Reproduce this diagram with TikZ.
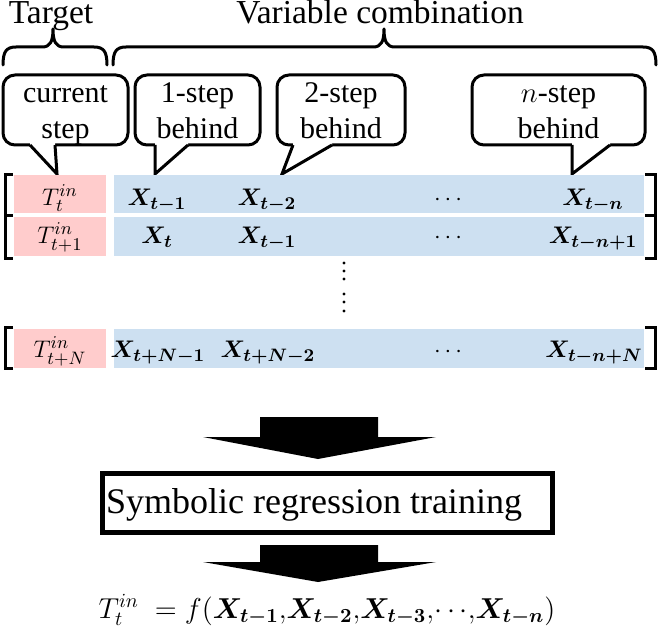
\documentclass[tikz,border=0pt]{standalone}
\usepackage{fontspec}
\setmainfont{Liberation Serif}
\usepackage{amsmath,bm}
\DeclareMathSizes{11.5}{11.5}{9}{7}
\DeclareMathSizes{13.6}{13.6}{10.2}{8}
\definecolor{pinkc}{RGB}{255,204,204}
\definecolor{bluec}{RGB}{205,224,241}
\begin{document}
\begin{tikzpicture}[x=0.5pt,y=-0.5pt,
  brace/.style={line width=1.5pt, line cap=round, line join=round},
  callbox/.style={draw, line width=1.5pt, rounded corners=6pt, fill=white, inner sep=0pt, minimum height=35pt},
  ctext/.style={anchor=base, inner sep=0pt, font=\fontsize{15}{18}\selectfont},
  ttext/.style={anchor=base, inner sep=0pt, font=\fontsize{16.75}{20}\selectfont},
  ptr/.style={line width=1.5pt, line join=miter},
  tcell/.style={fill=pinkc, inner sep=0pt, minimum width=46pt, minimum height=19.25pt},
  xcell/.style={fill=bluec, inner sep=0pt, minimum width=265pt, minimum height=19.25pt},
  mtxt/.style={anchor=base, inner sep=0pt, font=\fontsize{11.5}{14}\selectfont},
  brk/.style={line width=1.5pt},
  bigarrow/.style={fill=black},
  srbox/.style={draw, line width=2.5pt, inner sep=0pt, minimum width=225pt, minimum height=29.5pt}]
\useasboundingbox (0,0) rectangle (664,631);

% titles and braces
\node[ttext] (tgt) at (51,24) {Target};
\node[ttext] (var) at (380,24) {Variable combination};
\draw[brace] (3,65) .. controls (3,52) and (6,47) .. (16,47) -- (42,47)
  .. controls (50,47) and (53,42) .. (53,29) .. controls (53,42) and (56,47) .. (64,47)
  -- (94,47) .. controls (104,47) and (107,52) .. (107,65);
\draw[brace] (113,65) .. controls (113,52) and (116,47) .. (126,47) -- (373,47)
  .. controls (381,47) and (384,42) .. (384,29) .. controls (384,42) and (387,47) .. (395,47)
  -- (643,47) .. controls (653,47) and (656,52) .. (656,65);

% callout boxes
\node[callbox, minimum width=62.5pt] (cs) at (65.5,110) {};
\node[callbox, minimum width=62.5pt] (s1) at (197.5,110) {};
\node[callbox, minimum width=64pt] (s2) at (341,110) {};
\node[callbox, minimum width=86.5pt] (sn) at (558.5,110) {};

% pointers
\fill[white] (30,142.5) -- (55,142.5) -- (55,145) -- (57,174) -- (30,145) -- cycle;
\draw[ptr] (30,145) -- (57,174) -- (55,145);
\fill[white] (155,142.5) -- (188,142.5) -- (188,145) -- (155,174) -- (155,145) -- cycle;
\draw[ptr] (155,145) -- (155,174) -- (188,145);
\fill[white] (293,142.5) -- (332,142.5) -- (332,145) -- (282,174) -- (293,145) -- cycle;
\draw[ptr] (293,145) -- (282,174) -- (332,145);
\fill[white] (572,142.5) -- (610,142.5) -- (610,145) -- (572,174) -- (572,145) -- cycle;
\draw[ptr] (572,145) -- (572,174) -- (610,145);

\node[ctext] (cs1) at (65.5,103) {current};
\node[ctext] (cs2) at (65.5,138.5) {step};
\node[ctext] (s11) at (197.5,103) {1-step};
\node[ctext] (s12) at (197.5,138.5) {behind};
\node[ctext] (s21) at (341,103) {2-step};
\node[ctext] (s22) at (341,138.5) {behind};
\node[ctext] (sn1) at (558.5,103) {$n$-step};
\node[ctext] (sn2) at (558.5,138.5) {behind};

% rows
\node[tcell] (t1) at (60,194) {};
\node[xcell] (x1) at (379,194) {};
\node[tcell] (t2) at (60,236.5) {};
\node[xcell] (x2) at (379,236.5) {};
\node[tcell] (t3) at (60,348.5) {};
\node[xcell] (x3) at (379,348.5) {};

\node[mtxt] (a1) at (60,205.5) {$T_t^{in}$};
\node[mtxt] (b1) at (157,205.5) {$\bm{X}_{\bm{t-1}}$};
\node[mtxt] (c1) at (267,205.5) {$\bm{X}_{\bm{t-2}}$};
\node[mtxt] (d1) at (450,205.5) {$\cdots$};
\node[mtxt] (e1) at (593,205.5) {$\bm{X}_{\bm{t-n}}$};

\node[mtxt] (a2) at (60,243.5) {$T_{t+1}^{in}$};
\node[mtxt] (b2) at (157,243.5) {$\bm{X}_{\bm{t}}$};
\node[mtxt] (c2) at (267,243.5) {$\bm{X}_{\bm{t-1}}$};
\node[mtxt] (d2) at (450,243.5) {$\cdots$};
\node[mtxt] (e2) at (593,243.5) {$\bm{X}_{\bm{t-n+1}}$};

\node[mtxt] (a3) at (60,357) {$T_{t+N}^{in}$};
\node[mtxt] (b3) at (158,357) {$\bm{X}_{\bm{t+N-1}}$};
\node[mtxt] (c3) at (268,357) {$\bm{X}_{\bm{t+N-2}}$};
\node[mtxt] (d3) at (450,357) {$\cdots$};
\node[mtxt] (e3) at (594,357) {$\bm{X}_{\bm{t-n+N}}$};

% brackets
\draw[brk] (13,174) -- (5,174) -- (5,258) -- (13,258);
\draw[brk] (5,215) -- (13,215);
\draw[brk] (645,174) -- (655,174) -- (655,258) -- (645,258);
\draw[brk] (655,215) -- (645,215);
\draw[brk] (13,327) -- (5,327) -- (5,368) -- (13,368);
\draw[brk] (645,327) -- (655,327) -- (655,368) -- (645,368);

% vertical dots
\foreach \yy in {263,271,279,294,302,311} \fill (344,\yy) circle[radius=1.6];

% arrows and box
\fill[bigarrow] (260,417) -- (378,417) -- (378,437) -- (436,437) -- (318,459) -- (203,437) -- (260,437) -- cycle;
\node[srbox] (sr) at (327.5,503) {};
\node[anchor=base, inner sep=0pt, font=\fontsize{18}{21}\selectfont] (srt) at (314,513) {Symbolic regression training};
\fill[bigarrow] (260,545) -- (378,545) -- (378,562) -- (436,562) -- (318,582) -- (203,562) -- (260,562) -- cycle;

\node[anchor=base, inner sep=0pt, font=\fontsize{13.6}{16}\selectfont] (fml) at (327,618)
  {$T_t^{in}\;= f(\bm{X}_{\bm{t-1}}{,}\bm{X}_{\bm{t-2}}{,}\bm{X}_{\bm{t-3}}{,}\mathord{\cdots}{,}\bm{X}_{\bm{t-n}})$};
\end{tikzpicture}
\end{document}
